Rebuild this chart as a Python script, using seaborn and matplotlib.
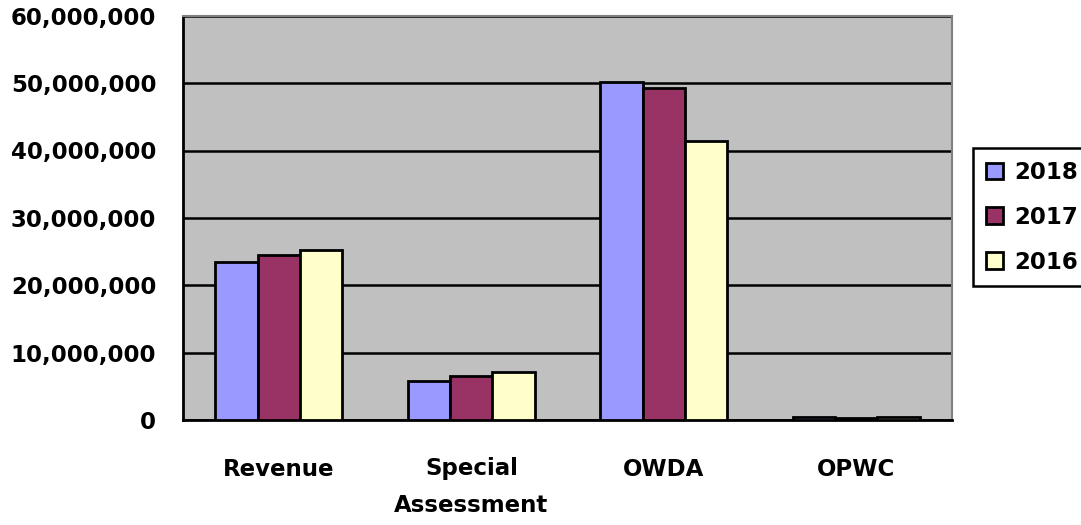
import seaborn as sns
import matplotlib.pyplot as plt
import matplotlib.ticker as mticker
import pandas as pd
import numpy as np

sns.set_style('white')
plt.rcParams['font.family'] = ['DejaVu Sans']
plt.rcParams['font.weight'] = 'bold'
plt.rcParams['text.color'] = 'black'
plt.rcParams['xtick.color'] = 'black'
plt.rcParams['ytick.color'] = 'black'

categories = ['Revenue', 'Special\nAssessment', 'OWDA', 'OPWC']
years = ['2018', '2017', '2016']
vals_2018 = [23.5e6, 5.8e6, 50.1e6, 0.5e6]
vals_2017 = [24.5e6, 6.5e6, 49.3e6, 0.3e6]
vals_2016 = [25.3e6, 7.1e6, 41.4e6, 0.4e6]
colors = ['#9999FF', '#993366', '#FFFFCC']

df = pd.DataFrame({
    'category': categories * 3,
    'year': [y for y in years for _ in categories],
    'value': vals_2018 + vals_2017 + vals_2016,
})

fs = 16.5
fig = plt.figure(figsize=(10.81, 5.25), dpi=100)
ax = fig.add_axes([0.169, 0.2, 0.712, 0.77])
ax.set_facecolor('#C0C0C0')

sns.barplot(data=df, x='category', y='value', hue='year', hue_order=years,
            palette=colors, width=0.66, edgecolor='black', linewidth=2,
            saturation=1, ax=ax, zorder=3)

ax.set_ylim(0, 60e6)
ax.set_xlim(-0.5, 3.5)
ax.yaxis.set_major_locator(mticker.MultipleLocator(10e6))
ax.yaxis.set_major_formatter(mticker.FuncFormatter(lambda v, p: f'{v:,.0f}'))
ax.grid(axis='y', color='black', linewidth=1.8, zorder=1)
ax.set_axisbelow(True)

ax.set_xticks(range(len(categories)))
ax.set_xticklabels(categories, fontsize=fs, fontweight='bold', va='top',
                   linespacing=1.75, color='black')
ax.set_xticks(np.arange(-0.5, 4, 1), minor=True)
ax.tick_params(axis='x', which='major', length=0, pad=27)
ax.tick_params(axis='x', which='minor', length=8, width=2, direction='out', color='black')
ax.tick_params(axis='y', which='major', length=8, width=2, direction='out', color='black',
               labelsize=fs, pad=11, labelcolor='black')
for t in ax.get_yticklabels():
    t.set_fontweight('bold')

ax.set_xlabel('')
ax.set_ylabel('')
for s in ['left', 'bottom']:
    ax.spines[s].set_color('black')
    ax.spines[s].set_linewidth(2)
for s in ['top', 'right']:
    ax.spines[s].set_color('#808080')
    ax.spines[s].set_linewidth(1.5)

handles, labels = ax.get_legend_handles_labels()
ax.get_legend().remove()
leg = fig.legend(handles, labels, loc='center left', bbox_to_anchor=(0.9, 0.586),
                 frameon=True, fancybox=False, edgecolor='black', framealpha=1,
                 prop={'size': fs, 'weight': 'bold'}, handlelength=0.75, handleheight=0.75,
                 handletextpad=0.5, labelspacing=0.95, borderpad=0.55, borderaxespad=0)
leg.get_frame().set_linewidth(1.8)
for t in leg.get_texts():
    t.set_color('black')

fig.savefig('out.png', dpi=100)
